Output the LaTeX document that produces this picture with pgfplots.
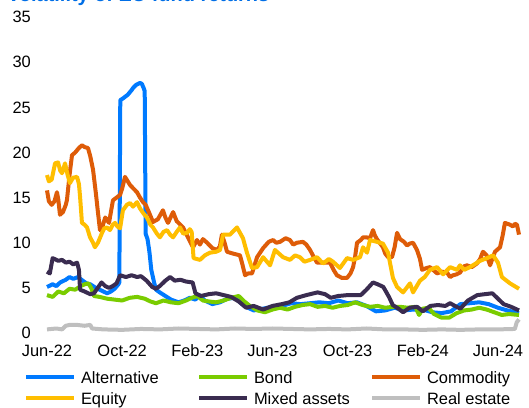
\documentclass[border=0pt]{standalone}
\usepackage{fontspec}
\setmainfont{Liberation Sans}
\usepackage{pgfplots}
\pgfplotsset{compat=1.18}

\definecolor{ctitle}{RGB}{0,110,230}
\definecolor{calt}{RGB}{0,122,255}
\definecolor{cbond}{RGB}{122,204,0}
\definecolor{ccom}{RGB}{222,92,8}
\definecolor{cequ}{RGB}{255,190,0}
\definecolor{cmix}{RGB}{58,44,80}
\definecolor{creal}{RGB}{191,191,191}

\newcommand{\lentry}[1]{\hspace*{5bp}\makebox[116bp][l]{#1}}

\begin{document}
\fontsize{16.5}{19}\selectfont
\begin{tikzpicture}[x=1bp,y=1bp]
\useasboundingbox (-47,-74) rectangle (482,333);
\node[anchor=base west, text=ctitle, font=\fontsize{20}{24}\selectfont\bfseries, inner sep=0pt] at (-40,332) {Volatility of EU fund returns};
\begin{axis}[
at={(0,0)}, anchor=south west,
scale only axis,
width=472bp, height=316bp,
xmin=0, xmax=25.12,
ymin=0, ymax=35.01,
axis line style={draw=none},
tick style={draw=none},
xtick={0,4,8,12,16,20,24},
xticklabels={Jun-22,Oct-22,Feb-23,Jun-23,Oct-23,Feb-24,Jun-24},
ytick={0,5,10,15,20,25,30,35},
yticklabels={0,5,10,15,20,25,30,35},
tick label style={font=\fontsize{16.5}{19}\selectfont},
xticklabel style={anchor=base, inner sep=0pt, yshift=-23bp},
yticklabel style={anchor=east, inner sep=0pt, xshift=-16bp},
clip=false,
every axis plot/.append style={line width=4bp, line join=round},
legend columns=3,
legend style={draw=none, fill=none, inner sep=0pt, outer sep=0pt,
  at={(axis description cs:-0.0487,-0.12025)}, anchor=north west,
  row sep=5.5bp, column sep=0pt,
  nodes={inner sep=0pt, anchor=base west, text height=12bp, text depth=3.5bp,
         font=\fontsize{16.5}{19}\selectfont}},
legend image code/.code={\draw[#1] (0bp,6bp) -- (48bp,6bp);},
]

% Alternative
\addplot[calt] coordinates {
(0,5.1) (0.3,5.4) (0.5,5.2) (0.7,5.6) (1.0,5.9) (1.2,6.2) (1.4,6.0) (1.65,6.2)
(1.9,5.8) (2.1,5.5) (2.3,5.4) (2.6,5.0) (2.8,4.8) (3.0,4.6) (3.2,4.4) (3.4,4.6)
(3.6,4.9) (3.8,5.4) (3.85,5.6) (3.9,25.8) (4.05,26.0) (4.3,26.4) (4.5,26.9)
(4.6,27.2) (4.75,27.5) (4.95,27.7) (5.05,27.6) (5.15,27.1) (5.2,26.8) (5.25,11.0)
(5.35,10.4) (5.45,9.0) (5.55,7.0) (5.7,5.6) (5.8,4.8) (6.0,4.5) (6.3,4.1)
(6.6,3.7) (7.0,3.4) (7.3,3.6) (7.6,3.9) (7.9,3.7) (8.1,4.2) (8.4,3.6) (8.8,3.2)
(9.2,3.4) (9.6,3.8) (10.0,3.9) (10.5,3.0) (11.0,2.5) (11.5,2.7) (12.0,2.9)
(12.5,3.0) (13.0,3.3) (13.5,3.2) (14.0,3.3) (14.5,3.4) (15.0,3.3) (15.5,3.6)
(16.0,3.3) (16.5,3.4) (17.0,3.0) (17.5,2.4) (18.0,2.5) (18.5,2.8) (19.0,2.5)
(19.5,2.6) (20.0,2.6) (20.5,2.3) (21.0,2.2) (21.5,2.4) (22.0,3.2) (22.5,3.3)
(23.0,3.4) (23.5,3.2) (24.0,2.8) (24.5,2.5) (25.12,2.2)
};
\addlegendentry{\lentry{Alternative}}

% Bond
\addplot[cbond] coordinates {
(0,4.2) (0.3,4.0) (0.6,4.6) (0.9,4.4) (1.2,4.9) (1.5,4.8) (1.8,5.2) (2.0,5.4)
(2.2,5.5) (2.35,5.0) (2.5,4.1) (2.8,4.0) (3.2,3.8) (3.6,3.7) (4.0,3.6) (4.4,3.9)
(4.8,4.0) (5.2,3.8) (5.5,3.5) (5.8,3.3) (6.2,3.6) (6.6,3.4) (7.0,3.3) (7.4,3.6)
(7.7,3.9) (8.0,4.1) (8.3,3.6) (8.6,3.5) (9.0,3.4) (9.4,3.6) (9.8,3.9) (10.2,4.1)
(10.5,3.5) (10.8,3.0) (11.2,2.5) (11.6,2.3) (12.0,2.6) (12.4,2.8) (12.8,2.6)
(13.2,2.9) (13.6,3.1) (14.0,3.2) (14.4,2.9) (14.8,3.0) (15.2,2.8) (15.6,3.0)
(16.0,3.1) (16.4,3.4) (16.8,3.1) (17.2,2.9) (17.6,3.0) (18.0,2.8) (18.4,2.9)
(18.8,2.9) (19.2,2.8) (19.6,2.9) (19.8,2.0) (20.0,2.7) (20.3,2.8) (20.6,2.1)
(21.0,1.7) (21.4,1.7) (21.8,2.2) (22.2,2.5) (22.6,2.6) (23.0,2.8) (23.4,2.6)
(23.8,2.3) (24.2,2.0) (24.6,2.1) (25.12,2.0)
};
\addlegendentry{\lentry{Bond}}

% Commodity
\addplot[ccom] coordinates {
(0,15.8) (0.1,14.6) (0.25,14.2) (0.4,14.6) (0.53,15.6) (0.6,14.8) (0.69,13.1)
(0.85,13.4) (1.0,14.2) (1.06,14.7) (1.2,17.5) (1.33,19.7) (1.5,20.0) (1.7,20.5)
(1.86,20.8) (2.0,20.6) (2.18,20.5) (2.3,19.6) (2.45,18.1) (2.6,15.5) (2.71,13.4)
(2.82,11.4) (2.95,11.8) (3.1,12.8) (3.3,12.2) (3.51,14.7) (3.7,15.0) (3.89,15.3)
(4.0,16.0) (4.15,17.3) (4.3,16.8) (4.42,16.4) (4.6,16.0) (4.79,15.6) (4.95,15.0)
(5.11,14.5) (5.25,14.2) (5.38,13.6) (5.5,13.0) (5.64,12.3) (5.9,12.6) (6.17,13.6)
(6.3,12.8) (6.44,12.2) (6.71,13.4) (6.9,12.4) (7.24,11.7) (7.5,10.6) (7.77,9.5)
(7.98,10.3) (8.14,9.8) (8.3,10.4) (8.52,10.0) (8.8,9.4) (9.05,9.2) (9.2,9.6)
(9.31,10.9) (9.45,10.0) (9.58,9.0) (9.9,8.8) (10.27,8.6) (10.4,7.6) (10.54,6.4)
(10.7,6.6) (10.91,6.6) (11.18,8.4) (11.5,9.4) (11.8,10.1) (12.03,10.3) (12.2,10.0)
(12.4,10.1) (12.7,10.5) (12.93,10.3) (13.1,9.8) (13.3,10.0) (13.62,10.1) (13.8,9.8)
(14.0,9.2) (14.2,8.4) (14.37,7.8) (14.7,7.8) (15.06,7.8) (15.25,7.0) (15.43,6.4)
(15.7,6.1) (15.97,6.1) (16.15,6.6) (16.29,7.3) (16.4,8.5) (16.5,10.0) (16.7,10.3)
(16.82,10.6) (17.0,10.6) (17.19,10.5) (17.35,11.4) (17.45,10.8) (17.56,10.4)
(17.7,10.0) (17.88,9.5) (18.0,8.8) (18.15,8.4) (18.36,8.4) (18.5,9.5) (18.63,11.1)
(18.79,10.4) (19.0,10.1) (19.16,9.7) (19.3,9.9) (19.48,10.0) (19.69,9.2) (19.85,8.2)
(19.96,7.0) (20.2,7.2) (20.38,7.3) (20.6,6.9) (20.76,6.6) (21.0,6.8) (21.29,6.7)
(21.45,6.2) (21.61,6.4) (21.8,6.5) (21.98,6.7) (22.2,7.4) (22.35,7.5) (22.6,7.3)
(22.88,7.7) (23.05,8.2) (23.2,9.0) (23.4,8.6) (23.58,7.5) (23.7,8.2) (23.84,9.0)
(24.11,9.5) (24.25,10.8) (24.37,12.2) (24.5,12.1) (24.64,12.0) (24.8,11.8)
(24.9,12.1) (25.01,12.0) (25.12,10.9)
};
\addlegendentry{\lentry{Commodity}}

% Equity
\addplot[cequ] coordinates {
(0,17.5) (0.1,16.8) (0.25,17.0) (0.43,18.8) (0.59,18.9) (0.7,18.0) (0.8,17.7)
(0.96,18.8) (1.1,17.5) (1.22,16.6) (1.38,17.2) (1.6,17.3) (1.7,16.5) (1.76,15.1)
(1.86,12.2) (2.0,12.0) (2.13,11.7) (2.29,10.6) (2.45,10.0) (2.55,9.5) (2.71,10.0)
(2.93,11.1) (3.05,11.6) (3.19,11.7) (3.35,11.4) (3.5,12.0) (3.62,12.2) (3.75,11.8)
(3.89,11.6) (4.04,13.6) (4.25,14.2) (4.42,14.4) (4.58,14.0) (4.79,14.5) (4.95,13.8)
(5.15,13.2) (5.32,12.8) (5.5,12.0) (5.64,11.7) (5.85,11.0) (6.01,10.6) (6.2,11.2)
(6.39,11.4) (6.55,10.9) (6.71,10.6) (6.9,11.2) (7.08,11.7) (7.25,11.0) (7.45,11.1)
(7.6,11.5) (7.7,11.2) (7.8,8.3) (8.14,8.1) (8.4,8.6) (8.67,8.9) (9.0,9.0)
(9.21,9.2) (9.37,10.9) (9.74,10.9) (10.11,11.7) (10.43,10.5) (10.64,8.9)
(10.91,7.2) (11.18,7.3) (11.5,8.4) (11.87,7.5) (12.13,9.2) (12.56,8.4) (12.93,8.1)
(13.2,8.6) (13.46,8.4) (13.7,7.9) (14.0,8.1) (14.37,8.4) (14.69,7.7) (15.0,8.2)
(15.22,7.9) (15.59,7.2) (15.97,8.3) (16.29,8.1) (16.66,8.4) (16.82,9.5)
(17.03,8.9) (17.19,10.3) (17.56,10.1) (17.88,9.9) (18.15,8.9) (18.41,6.1)
(18.63,5.1) (18.95,4.5) (19.32,5.5) (19.48,4.5) (19.85,5.8) (20.1,6.2) (20.38,7.0)
(20.76,7.3) (21.08,6.5) (21.45,7.3) (21.82,7.0) (21.98,7.5) (22.2,7.0) (22.51,7.3)
(23.05,8.0) (23.42,8.3) (23.74,8.6) (24.0,7.8) (24.21,6.2) (24.64,5.5) (25.12,4.9)
};
\addlegendentry{\lentry{Equity}}

% Mixed assets
\addplot[cmix] coordinates {
(0,6.8) (0.15,6.6) (0.3,8.3) (0.6,8.0) (0.8,8.1) (1.0,7.8) (1.2,7.9) (1.4,7.6)
(1.6,7.8) (1.7,7.0) (1.76,4.8) (2.0,4.6) (2.3,4.3) (2.5,4.4) (2.7,5.0) (2.9,5.6)
(3.1,5.2) (3.3,5.0) (3.5,5.2) (3.7,5.5) (3.89,6.4) (4.2,6.2) (4.5,6.4) (4.8,6.2)
(5.0,6.3) (5.3,5.8) (5.6,5.1) (5.8,4.9) (6.0,5.2) (6.3,5.8) (6.55,6.2) (6.8,5.8)
(7.1,5.9) (7.4,5.7) (7.75,5.6) (7.9,4.4) (8.2,4.1) (8.6,4.3) (9.0,4.4) (9.4,4.2)
(9.8,4.0) (10.2,3.5) (10.6,2.8) (11.0,3.0) (11.5,2.6) (12.0,3.0) (12.5,3.2)
(12.9,3.4) (13.3,3.9) (13.8,4.2) (14.4,4.5) (14.8,4.3) (15.1,3.9) (15.5,4.1)
(16.0,4.2) (16.7,4.2) (17.0,4.8) (17.35,5.6) (17.6,5.4) (17.9,5.1) (18.2,4.0)
(18.4,3.1) (18.7,2.7) (18.95,2.3) (19.3,2.8) (19.7,2.9) (20.0,2.4) (20.4,3.0)
(20.8,3.1) (21.2,3.0) (21.45,3.3) (21.8,2.9) (22.0,2.7) (22.4,3.6) (22.9,4.2)
(23.3,4.3) (23.7,4.4) (24.0,3.8) (24.3,3.2) (24.7,2.9) (25.12,2.5)
};
\addlegendentry{\lentry{Mixed assets}}

% Real estate
\addplot[creal] coordinates {
(0,0.4) (0.5,0.5) (0.8,0.4) (1.0,0.8) (1.2,0.9) (1.6,0.9) (2.0,0.8) (2.3,0.9)
(2.4,0.5) (3.0,0.4) (4.0,0.35) (5.0,0.45) (6.0,0.4) (7.0,0.5) (8.0,0.45)
(9.0,0.4) (10.0,0.5) (11.0,0.45) (12.0,0.5) (13.0,0.45) (14.0,0.4) (15.0,0.45)
(16.0,0.4) (17.0,0.5) (18.0,0.4) (19.0,0.4) (20.0,0.35) (21.0,0.4) (22.0,0.35)
(23.0,0.4) (24.0,0.4) (24.9,0.45) (25.0,1.2) (25.12,1.5)
};
\addlegendentry{\lentry{Real estate}}

\end{axis}
\end{tikzpicture}
\end{document}
